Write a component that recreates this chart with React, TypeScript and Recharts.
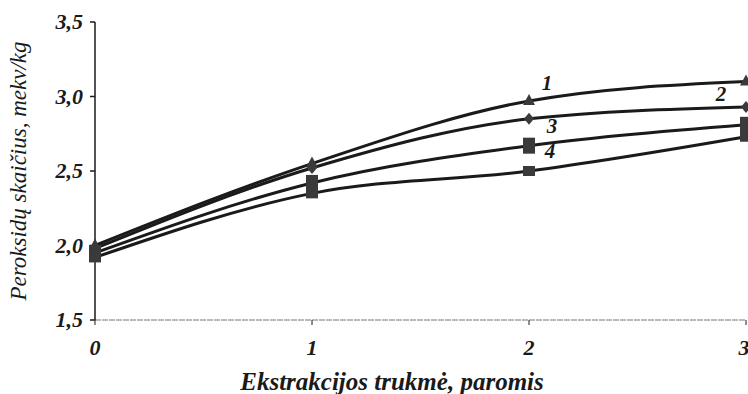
import { LineChart, Line, XAxis, YAxis, LabelList } from 'recharts'

// Ekstrakcijos trukmė (paromis) ir peroksidų skaičius kiekvienam mėginiui
const days = [0, 1, 2, 3]
const series1 = [2.0, 2.55, 2.97, 3.1]
const series2 = [1.98, 2.52, 2.85, 2.93]
const series3 = [1.95, 2.42, 2.67, 2.81]
const series4 = [1.92, 2.35, 2.5, 2.73]
const seriesNames = ['1', '2', '3', '4']
const yTicks = [1.5, 2.0, 2.5, 3.0, 3.5]

const data = days.map((d, i) => ({
  day: d,
  s1: series1[i],
  s2: series2[i],
  s3: series3[i],
  s4: series4[i],
}))

const font = '"Liberation Serif", "Times New Roman", serif'
const ink = '#1a1a1a'
const markerFill = '#3a3a3a'

const fmt = (v: number) => v.toFixed(1).replace('.', ',')

type DotProps = { cx?: number; cy?: number; index?: number }

const Triangle = ({ cx = 0, cy = 0 }: DotProps) => (
  <path d={`M${cx},${cy - 7} L${cx + 6},${cy + 4} L${cx - 6},${cy + 4} Z`} fill={markerFill} />
)
const Diamond = ({ cx = 0, cy = 0 }: DotProps) => (
  <path d={`M${cx},${cy - 6} L${cx + 5},${cy} L${cx},${cy + 6} L${cx - 5},${cy} Z`} fill={markerFill} />
)
const BigSquare = ({ cx = 0, cy = 0 }: DotProps) => (
  <rect x={cx - 6} y={cy - 8} width={12} height={16} fill={markerFill} />
)
const SmallSquare = ({ cx = 0, cy = 0 }: DotProps) => (
  <rect x={cx - 6} y={cy - 5} width={12} height={10} fill={markerFill} />
)

// series name written next to one chosen point
const nameLabel = (name: string, at: number, dx: number, dy: number) => (props: any) => {
  if (props.index !== at) return null
  return (
    <text
      x={props.x + dx}
      y={props.y + dy}
      textAnchor="middle"
      fontFamily={font}
      fontStyle="italic"
      fontWeight="bold"
      fontSize={21}
      fill={ink}
    >
      {name}
    </text>
  )
}

const XTick = ({ x, y, payload }: any) => (
  <text x={x} y={y + 28} textAnchor="middle" fontFamily={font} fontStyle="italic" fontWeight="bold" fontSize={22} fill={ink}>
    {payload.value}
  </text>
)

const YTick = ({ x, y, payload }: any) => (
  <text x={x - 5} y={y + 7} textAnchor="end" fontFamily={font} fontStyle="italic" fontWeight="bold" fontSize={22} fill={ink}>
    {fmt(payload.value)}
  </text>
)

export default function App() {
  return (
    <div style={{ position: 'absolute', left: 0, top: 0, background: '#fff' }}>
      <LineChart width={748} height={394} data={data} margin={{ top: 22, right: 2, left: 35, bottom: 44 }}>
        <XAxis
          dataKey="day"
          type="number"
          domain={[0, 3]}
          ticks={days}
          stroke="#777"
          strokeDasharray="6 1"
          tickSize={5}
          tick={<XTick />}
          tickLine={{ stroke: ink }}
        />
        <YAxis
          type="number"
          domain={[1.5, 3.5]}
          ticks={yTicks}
          width={60}
          stroke={ink}
          strokeWidth={1.5}
          tickSize={5}
          tick={<YTick />}
          label={{
            value: 'Peroksidų skaičius, mekv/kg',
            angle: -90,
            position: 'insideLeft',
            offset: -17,
            style: { fontFamily: font, fontStyle: 'italic', fontSize: 23, fill: ink, textAnchor: 'middle' },
          }}
        />
        <Line type="monotone" dataKey="s4" stroke={ink} strokeWidth={3} dot={<SmallSquare />} isAnimationActive={false}>
          <LabelList dataKey="s4" content={nameLabel(seriesNames[3], 2, 21, -13)} />
        </Line>
        <Line type="monotone" dataKey="s3" stroke={ink} strokeWidth={3} dot={<BigSquare />} isAnimationActive={false}>
          <LabelList dataKey="s3" content={nameLabel(seriesNames[2], 2, 23, -13)} />
        </Line>
        <Line type="monotone" dataKey="s2" stroke={ink} strokeWidth={3} dot={<Diamond />} isAnimationActive={false}>
          <LabelList dataKey="s2" content={nameLabel(seriesNames[1], 3, -25, -6)} />
        </Line>
        <Line type="monotone" dataKey="s1" stroke={ink} strokeWidth={3} dot={<Triangle />} isAnimationActive={false}>
          <LabelList dataKey="s1" content={nameLabel(seriesNames[0], 2, 18, -11)} />
        </Line>
        <text x={392} y={390} textAnchor="middle" fontFamily={font} fontStyle="italic" fontWeight="bold" fontSize={25} fill={ink}>
          Ekstrakcijos trukmė, paromis
        </text>
      </LineChart>
    </div>
  )
}
